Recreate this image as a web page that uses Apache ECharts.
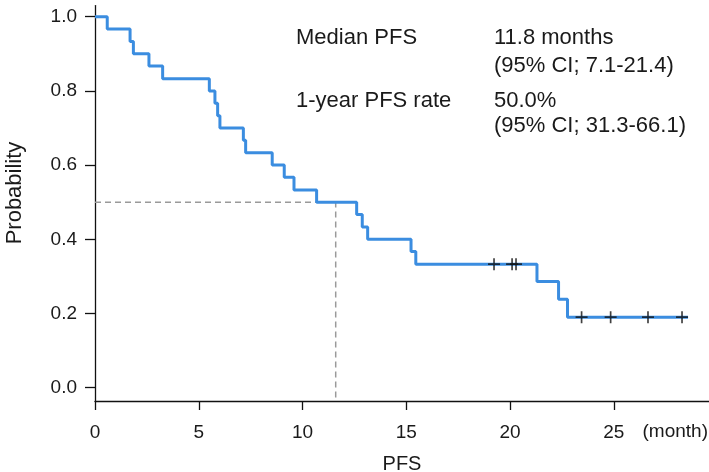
<!DOCTYPE html>
<html>
<head>
<meta charset="utf-8">
<script src="https://cdn.jsdelivr.net/npm/echarts@6.0.0/dist/echarts.min.js"></script>
<style>
html, body { margin: 0; padding: 0; background: #fff; }
#chart { width: 709px; height: 472px; }
</style>
</head>
<body>
<div id="chart"></div>
<script>
// KM curve for PFS (months, probability)
var eventTimes = [0, 0.59, 1.69, 1.85, 2.60, 3.26, 5.51, 5.78, 5.91, 6.02, 7.15, 7.26, 8.54, 9.12, 9.59, 10.68, 12.61, 12.88, 13.14, 15.23, 15.46, 21.30, 22.34, 22.77, 28.58];
var survival = [1.0, 0.967, 0.933, 0.900, 0.867, 0.833, 0.800, 0.767, 0.733, 0.700, 0.667, 0.633, 0.600, 0.567, 0.533, 0.500, 0.467, 0.433, 0.400, 0.367, 0.333, 0.286, 0.238, 0.190, 0.190];
var censorTimes = [19.23, 20.10, 20.29, 23.45, 24.85, 26.65, 28.29];
var censorSurv = [0.333, 0.333, 0.333, 0.190, 0.190, 0.190, 0.190];
var xTicks = [0, 5, 10, 15, 20, 25];
var yTicks = [0, 0.2, 0.4, 0.6, 0.8, 1.0];
var medianTime = 11.6;
var medianProb = 0.5;

var FONT = "'Liberation Sans', Arial, sans-serif";
var TXT = '#1a1a1a';

var chart = echarts.init(document.getElementById('chart'));

var kmData = eventTimes.map(function (t, i) { return [t, survival[i]]; });
var censorData = censorTimes.map(function (t, i) { return [t, censorSurv[i]]; });
var yMin = -0.036;

function note(text, x, y) {
    return {
        type: 'text', left: x, top: y,
        style: { text: text, font: '22px ' + FONT, fill: TXT, textVerticalAlign: 'middle' }
    };
}

chart.setOption({
    animation: false,
    grid: { left: 95, right: 0, top: 5.6, bottom: 71, containLabel: false, outerBoundsMode: 'none' },
    xAxis: {
        type: 'value',
        min: 0,
        max: 29.59,
        name: 'PFS',
        nameLocation: 'middle',
        nameGap: 53,
        nameTextStyle: { fontFamily: FONT, fontSize: 20, color: TXT },
        axisLine: { onZero: false, lineStyle: { color: '#111', width: 1.3 } },
        axisTick: { customValues: xTicks, length: 9, lineStyle: { color: '#111', width: 1.3 } },
        axisLabel: { customValues: xTicks, margin: 22, fontFamily: FONT, fontSize: 19, color: TXT },
        splitLine: { show: false }
    },
    yAxis: {
        type: 'value',
        min: yMin,
        max: 1.03,
        axisLine: { show: true, onZero: false, lineStyle: { color: '#111', width: 1.3 } },
        axisTick: { show: true, customValues: yTicks, length: 10, lineStyle: { color: '#111', width: 1.3 } },
        axisLabel: {
            customValues: yTicks, margin: 18, fontFamily: FONT, fontSize: 19, color: TXT,
            formatter: function (v) { return v.toFixed(1); }
        },
        splitLine: { show: false }
    },
    graphic: [
        {
            type: 'text', x: 15, y: 193, rotation: Math.PI / 2,
            style: { text: 'Probability', font: '22px ' + FONT, fill: TXT, textAlign: 'center', textVerticalAlign: 'middle' }
        },
        {
            type: 'text', right: 1, top: 422,
            style: { text: '(month)', font: '19px ' + FONT, fill: TXT }
        },
        note('Median PFS', 296, 27),
        note('11.8 months', 494, 27),
        note('(95% CI; 7.1-21.4)', 494, 55),
        note('1-year PFS rate', 296, 90),
        note('50.0%', 494, 90),
        note('(95% CI; 31.3-66.1)', 494, 115)
    ],
    series: [
        {
            type: 'line',
            data: [[0, medianProb], [medianTime, medianProb], [medianTime, yMin]],
            symbol: 'none',
            lineStyle: { color: '#9a9a9a', width: 1.5, type: [6, 4] },
            z: 1
        },
        {
            type: 'line',
            step: 'end',
            data: kmData,
            symbol: 'none',
            lineStyle: { color: '#3b8de0', width: 3 },
            z: 2
        },
        {
            type: 'scatter',
            data: censorData,
            symbol: 'path://M0,4.3H10V5.7H0Z M4.3,0H5.7V10H4.3Z',
            symbolSize: 12,
            itemStyle: { color: '#111' },
            z: 3
        }
    ]
});
</script>
</body>
</html>
